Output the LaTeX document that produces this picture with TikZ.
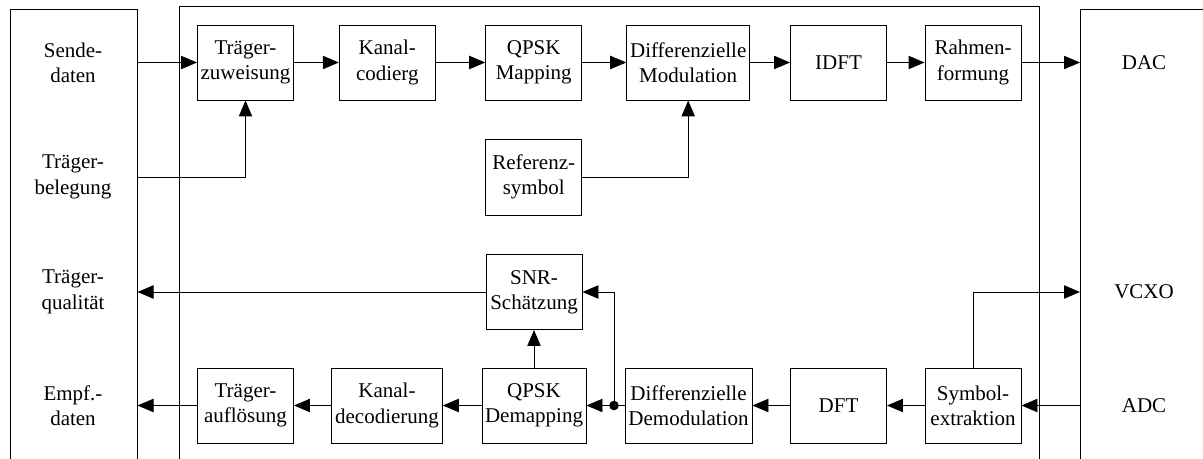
\documentclass[tikz,border=0pt]{standalone}
\usepackage{fontspec}
\setmainfont{Liberation Serif}
\usetikzlibrary{arrows.meta}
\tikzset{
  blk/.style={draw, line width=0.7pt, minimum width=72pt, minimum height=56.25pt, inner sep=1pt, align=center, font=\fontsize{15.75pt}{19pt}\selectfont},
  lbl/.style={align=center, inner sep=0pt, font=\fontsize{15.75pt}{19pt}\selectfont},
  con/.style={line width=0.7pt},
  arr/.style={con, -{Triangle[length=12pt,width=10pt]}},
  panel/.style={line width=0.7pt},
}
\begin{document}
\begin{tikzpicture}[x=0.75pt,y=-0.75pt]
\useasboundingbox (0,0) rectangle (1203,459);
% panels
\draw[panel] (10,459) -- (10,9.3) -- (137.5,9.3) -- (137.5,459);
\draw[panel] (179,459) -- (179,6) -- (1039.5,6) -- (1039.5,459);
\draw[panel] (1080,459) -- (1080,9.3) -- (1203,9.3);
% panel labels
\node[lbl] (sd) at (73,62.5) {Sende-\\daten};
\node[lbl] (tbl) at (73,177) {Träger-\\belegung};
\node[lbl] (tq) at (73,292) {Träger-\\qualität};
\node[lbl] (ed) at (73,405.5) {Empf.-\\daten};
\node[lbl] (dac) at (1144,62.5) {DAC};
\node[lbl] (vcxo) at (1144,292) {VCXO};
\node[lbl] (adc) at (1144,405.5) {ADC};
% coordinates on panel edges
\coordinate (lp1) at (137.5,62.5);
\coordinate (lp2) at (137.5,177);
\coordinate (lp3) at (137.5,292);
\coordinate (lp4) at (137.5,405.5);
\coordinate (rp1) at (1080,62.5);
\coordinate (rp3) at (1080,292);
\coordinate (rp4) at (1080,405.5);
% top row
\node[blk] (tz) at (245.5,62.5) {Träger-\\zuweisung};
\node[blk] (kc) at (387.3,62.5) {Kanal-\\codierg};
\node[blk] (qm) at (533.7,62.5) {QPSK\\Mapping};
\node[blk, minimum width=92.25pt] (dm) at (688.2,62.5) {Differenzielle\\Modulation};
\node[blk] (idft) at (838.5,62.5) {IDFT};
\node[blk] (rf) at (973,62.5) {Rahmen-\\formung};
\node[blk, minimum height=57pt] (ref) at (533.7,177) {Referenz-\\symbol};
% bottom
\node[blk] (snr) at (534,292) {SNR-\\Schätzung};
\node[blk] (ta) at (245.5,405.5) {Träger-\\auflösung};
\node[blk, minimum width=83pt] (kd) at (387,405.5) {Kanal-\\decodierung};
\node[blk, minimum width=78pt] (qd) at (534,405.5) {QPSK\\Demapping};
\node[blk, minimum width=95.25pt] (dd) at (688.5,405.5) {Differenzielle\\Demodulation};
\node[blk] (dft) at (838.5,405.5) {DFT};
\node[blk] (se) at (973,405.5) {Symbol-\\extraktion};
% connectors top
\draw[arr] (lp1) -- (tz);
\draw[arr] (lp2) -| (tz.south);
\draw[arr] (tz) -- (kc);
\draw[arr] (kc) -- (qm);
\draw[arr] (qm) -- (dm);
\draw[arr] (dm) -- (idft);
\draw[arr] (idft) -- (rf);
\draw[arr] (rf) -- (rp1);
\draw[arr] (ref.east) -| (dm.south);
% connectors bottom
\draw[arr] (rp4) -- (se);
\draw[arr] (se) -- (dft);
\draw[arr] (dft) -- (dd);
\coordinate (jn) at (614,405.5);
\draw[con] (dd) -- (jn);
\draw[arr] (jn) -- (qd);
\fill (jn) circle (3.6pt);
\draw[arr] (jn) |- (snr.east);
\draw[arr] (qd) -- (snr);
\draw[arr] (snr) -- (lp3);
\draw[arr] (qd) -- (kd);
\draw[arr] (kd) -- (ta);
\draw[arr] (ta) -- (lp4);
\draw[arr] (se.north) |- (rp3);
\end{tikzpicture}
\end{document}
